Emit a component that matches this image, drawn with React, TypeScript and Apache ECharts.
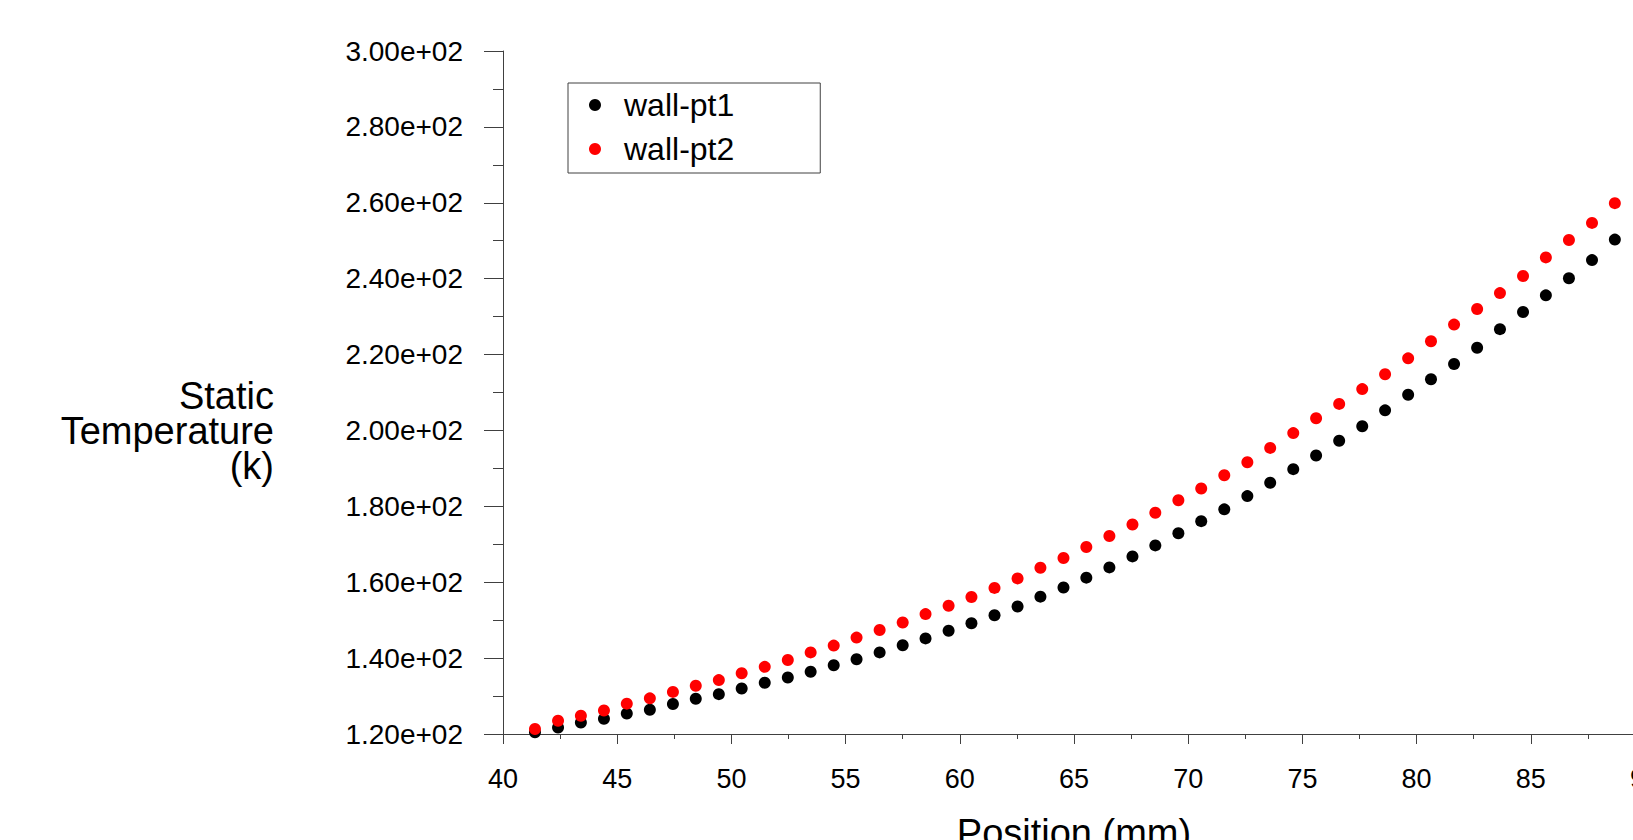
import React, { useEffect, useRef } from "react";
import * as echarts from "echarts";

const positionMm = [
  41.40, 42.41, 43.41, 44.42, 45.42, 46.43, 47.44, 48.44, 49.45, 50.45,
  51.46, 52.47, 53.47, 54.48, 55.48, 56.49, 57.50, 58.50, 59.51, 60.51,
  61.52, 62.53, 63.53, 64.54, 65.54, 66.55, 67.56, 68.56, 69.57, 70.57,
  71.58, 72.59, 73.59, 74.60, 75.60, 76.61, 77.62, 78.62, 79.63, 80.63,
  81.64, 82.65, 83.65, 84.66, 85.66, 86.67, 87.68, 88.68,
];

const wallPt1 = [
  120.45, 121.7, 123.0, 124.0, 125.4, 126.4, 127.9, 129.3, 130.5, 132.0,
  133.5, 134.9, 136.4, 138.1, 139.7, 141.5, 143.4, 145.2, 147.2, 149.2,
  151.3, 153.6, 156.2, 158.6, 161.2, 163.9, 166.8, 169.7, 172.9, 176.1,
  179.2, 182.7, 186.2, 189.8, 193.4, 197.3, 201.1, 205.3, 209.4, 213.5,
  217.5, 221.8, 226.7, 231.2, 235.6, 240.1, 244.9, 250.3,
];

const wallPt2 = [
  121.3, 123.5, 124.8, 126.2, 128.0, 129.4, 131.1, 132.7, 134.2, 136.0,
  137.7, 139.5, 141.5, 143.3, 145.4, 147.4, 149.4, 151.6, 153.8, 156.1,
  158.5, 161.0, 163.8, 166.4, 169.3, 172.2, 175.2, 178.3, 181.6, 184.7,
  188.2, 191.6, 195.4, 199.3, 203.2, 207.0, 210.9, 214.8, 219.0, 223.5,
  227.9, 232.0, 236.2, 240.7, 245.6, 250.2, 254.7, 259.9,
];

const seriesNames = ["wall-pt1", "wall-pt2"];
const yTickValues = [120, 140, 160, 180, 200, 220, 240, 260, 280, 300];
const yTickLabels = [
  "1.20e+02", "1.40e+02", "1.60e+02", "1.80e+02", "2.00e+02",
  "2.20e+02", "2.40e+02", "2.60e+02", "2.80e+02", "3.00e+02",
];
const xAxisTitle = "Position (mm)";
const yAxisTitle = "Static\nTemperature\n(k)";

const FONT = "'Liberation Sans', Arial, Helvetica, sans-serif";
const AXIS_COLOR = "#404040";

export default function App() {
  const ref = useRef<HTMLDivElement>(null);

  useEffect(() => {
    if (!ref.current) return;
    const chart = echarts.init(ref.current, undefined, { renderer: "svg" });
    const toPairs = (ys: number[]) => ys.map((y, i) => [positionMm[i], y]);
    chart.setOption({
      animation: false,
      backgroundColor: "#ffffff",
      textStyle: { fontFamily: FONT },
      grid: {
        left: 503,
        right: 55,
        top: 51,
        bottom: 106,
        containLabel: false,
        outerBoundsMode: "none",
      },
      graphic: [
        {
          type: "text",
          x: 274,
          y: 431,
          silent: true,
          style: {
            text: yAxisTitle,
            fontFamily: FONT,
            fontSize: 38,
            lineHeight: 35,
            fill: "#000",
            align: "right",
            verticalAlign: "middle",
          },
        },
      ],
      legend: {
        orient: "vertical",
        left: 568,
        top: 83,
        data: seriesNames,
        icon: "circle",
        itemWidth: 48,
        itemHeight: 12,
        itemGap: 12,
        padding: [6, 86, 8, 21],
        borderColor: AXIS_COLOR,
        borderWidth: 1,
        borderRadius: 0,
        textStyle: { fontFamily: FONT, fontSize: 32, color: "#000", lineHeight: 32 },
      },
      xAxis: {
        type: "value",
        min: 40,
        max: 90,
        interval: 5,
        name: xAxisTitle,
        nameLocation: "middle",
        nameGap: 80,
        nameTextStyle: { fontFamily: FONT, fontSize: 38, color: "#000", verticalAlign: "top" },
        axisLine: { show: true, onZero: false, lineStyle: { color: AXIS_COLOR, width: 1 } },
        axisTick: { show: true, inside: false, length: 10, lineStyle: { color: AXIS_COLOR } },
        minorTick: { show: true, splitNumber: 2, length: 5, lineStyle: { color: AXIS_COLOR } },
        splitLine: { show: false },
        axisLabel: { fontFamily: FONT, fontSize: 27, color: "#000", margin: 31 },
      },
      yAxis: {
        type: "value",
        min: 120,
        max: 300,
        interval: 20,
        axisLine: { show: true, onZero: false, lineStyle: { color: AXIS_COLOR, width: 1 } },
        axisTick: { show: true, inside: false, length: 19, lineStyle: { color: AXIS_COLOR } },
        minorTick: { show: true, splitNumber: 2, length: 10, lineStyle: { color: AXIS_COLOR } },
        splitLine: { show: false },
        axisLabel: {
          fontFamily: FONT,
          fontSize: 28,
          color: "#000",
          margin: 40,
          formatter: (v: number) => {
            const idx = yTickValues.indexOf(Math.round(v));
            return idx >= 0 ? yTickLabels[idx] : "";
          },
        },
      },
      series: [
        {
          name: seriesNames[0],
          type: "scatter",
          symbol: "circle",
          symbolSize: 12,
          itemStyle: { color: "#000000", opacity: 1 },
          data: toPairs(wallPt1),
        },
        {
          name: seriesNames[1],
          type: "scatter",
          symbol: "circle",
          symbolSize: 12,
          itemStyle: { color: "#ff0000", opacity: 1 },
          data: toPairs(wallPt2),
        },
      ],
    });
    return () => chart.dispose();
  }, []);

  return (
    <div
      style={{
        position: "fixed",
        left: 0,
        top: 0,
        width: 1633,
        height: 840,
        overflow: "hidden",
        background: "#fff",
      }}
    >
      <div ref={ref} style={{ width: 1700, height: 840 }} />
    </div>
  );
}
